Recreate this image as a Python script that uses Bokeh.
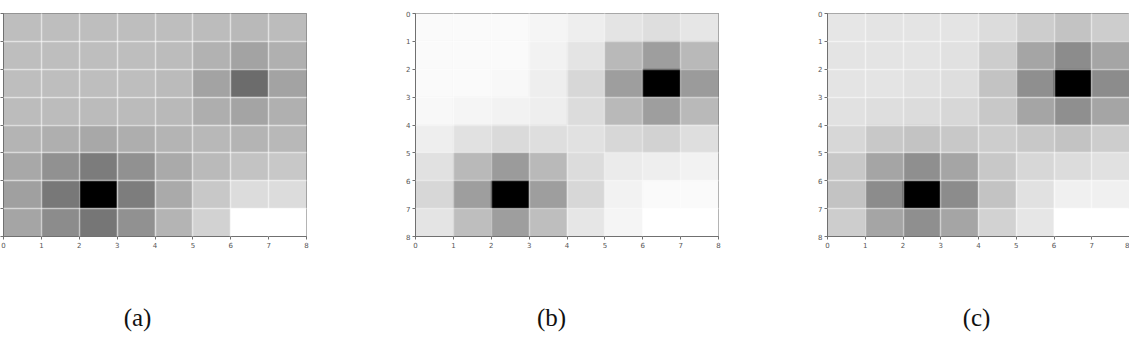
from bokeh.plotting import figure
from bokeh.layouts import column, row
from bokeh.models import Range1d, LinearColorMapper, FixedTicker, ColumnDataSource, CustomJSTickFormatter
from bokeh.embed import file_html
from bokeh.resources import INLINE
from bokeh.core.properties import value

# tick labels along both axes
ticks = [0, 1, 2, 3, 4, 5, 6, 7, 8]
captions = ["(a)", "(b)", "(c)"]

# gray lightness of each cell (0 = black, 255 = white); row 0 is the top row
panel_a = [
    [190, 190, 190, 190, 190, 188, 185, 188],
    [190, 190, 190, 190, 188, 178, 163, 176],
    [190, 190, 190, 190, 187, 163, 108, 163],
    [188, 188, 187, 187, 185, 174, 164, 176],
    [180, 175, 168, 174, 180, 184, 180, 184],
    [168, 145, 124, 145, 170, 186, 195, 200],
    [160, 120, 0, 125, 170, 200, 220, 220],
    [165, 140, 118, 145, 180, 210, 255, 255],
]

panel_b = [
    [250, 250, 250, 245, 238, 228, 222, 230],
    [250, 250, 250, 242, 228, 185, 158, 185],
    [250, 250, 248, 238, 215, 158, 0, 155],
    [248, 245, 242, 238, 220, 185, 158, 185],
    [238, 225, 218, 222, 225, 215, 210, 222],
    [225, 185, 155, 185, 220, 235, 238, 242],
    [215, 158, 0, 158, 215, 242, 250, 250],
    [228, 190, 158, 190, 230, 245, 255, 255],
]

panel_c = [
    [230, 228, 228, 228, 220, 205, 195, 205],
    [228, 228, 228, 225, 205, 165, 140, 165],
    [228, 228, 225, 222, 195, 143, 0, 140],
    [225, 222, 220, 215, 200, 165, 143, 165],
    [215, 200, 195, 200, 205, 200, 195, 205],
    [200, 165, 143, 165, 200, 215, 220, 225],
    [195, 140, 0, 140, 195, 225, 240, 240],
    [205, 165, 143, 165, 210, 230, 255, 255],
]

palette = ["#%02x%02x%02x" % (i, i, i) for i in range(256)]
mapper = LinearColorMapper(palette=palette, low=0, high=255)

SPINE = "#707070"
TICKLBL = "#555555"


def panel(grid, width, left, right, show_ylabels, grid_alpha):
    xs, ys, vs = [], [], []
    for r, rowvals in enumerate(grid):
        for c, v in enumerate(rowvals):
            xs.append(c + 0.5)
            ys.append(r + 0.5)
            vs.append(v)
    src = ColumnDataSource(dict(x=xs, y=ys, v=vs))
    p = figure(width=width, height=270,
               x_range=Range1d(0, 8), y_range=Range1d(8, 0),
               output_backend="svg", toolbar_location=None,
               min_border_left=left, min_border_right=right,
               min_border_top=13, min_border_bottom=34)
    p.rect("x", "y", 1, 1, source=src,
           fill_color={"field": "v", "transform": mapper},
           line_color={"field": "v", "transform": mapper}, line_width=0.6)
    for ax in (p.xaxis, p.yaxis):
        ax.ticker = FixedTicker(ticks=ticks)
        ax.minor_tick_line_color = None
        ax.major_tick_out = 3
        ax.major_tick_in = 0
        ax.major_tick_line_color = SPINE
        ax.axis_line_color = SPINE
        ax.major_label_text_font = "DejaVu Sans"
        ax.major_label_text_font_size = "7px"
        ax.major_label_text_color = TICKLBL
        ax.major_label_standoff = 2
    if not show_ylabels:
        # the labels of the first panel fall outside the picture in the reference
        p.yaxis.formatter = CustomJSTickFormatter(code="return ''")
        p.yaxis.major_label_standoff = 0
    p.grid.ticker = FixedTicker(ticks=ticks)
    p.grid.level = "overlay"
    p.grid.grid_line_color = "white"
    p.grid.grid_line_alpha = grid_alpha
    p.grid.grid_line_width = 1.5
    p.outline_line_color = SPINE
    p.outline_line_width = 1
    p.background_fill_color = "white"
    p.border_fill_color = "white"
    return p


p1 = panel(panel_a, 400, 3, 94, False, 0.55)
p2 = panel(panel_b, 410, 15, 92, True, 0.35)
p3 = panel(panel_c, 319, 17, 0, True, 0.5)

cap_x = [137, 551, 976]
pc = figure(width=1129, height=72, x_range=Range1d(0, 1129), y_range=Range1d(72, 0),
            output_backend="svg", toolbar_location=None,
            min_border_left=0, min_border_right=0, min_border_top=0, min_border_bottom=0)
pc.axis.visible = False
pc.grid.visible = False
pc.outline_line_color = None
pc.text(x=cap_x, y=[47, 47, 47], text=captions, text_align="center", text_baseline="middle",
        text_font=value("Liberation Serif"), text_font_size="25px", text_color="#111111")

layout = column(row(p1, p2, p3), pc)
open("out.html", "w").write(file_html(layout, INLINE))
